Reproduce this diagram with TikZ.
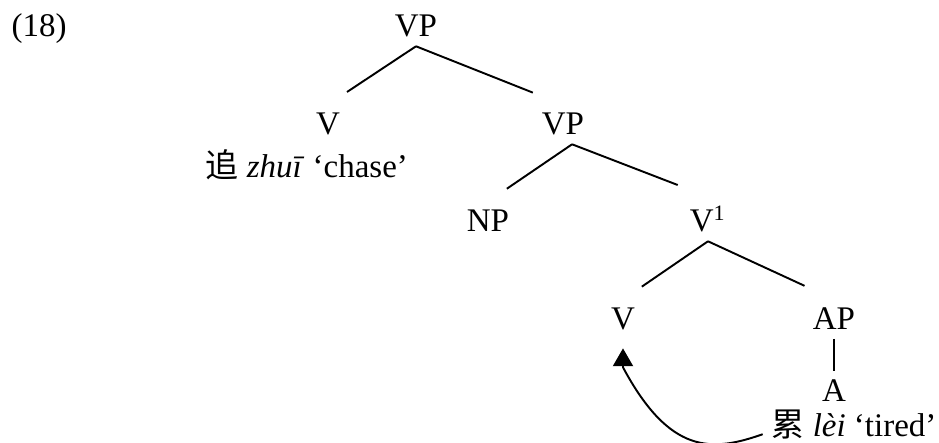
\documentclass[tikz,border=0pt]{standalone}
\usepackage{fontspec}
\setmainfont{Liberation Serif}
\newfontfamily\cjk{Noto Sans CJK SC}
\usetikzlibrary{arrows.meta}
\tikzset{
  cat/.style={inner xsep=0pt,inner ysep=3pt,anchor=base,
              font=\fontsize{12}{14}\selectfont},
  gloss/.style={cat,anchor=base west},
  branchL/.style={line width=0.7pt,shorten >=8.3pt},
  branchR/.style={line width=0.7pt,shorten >=11.8pt},
  move/.style={-{Triangle[width=7.3pt,length=6.5pt]},line width=0.7pt},
}

\begin{document}
\begin{tikzpicture}[x=0.3636pt,y=-0.3636pt]
  \useasboundingbox (0,0) rectangle (939,443);
  \node[gloss] (ex) at (11,37) {(18)};
  \node[cat] (vp) at (416,37) {VP};
  \node[cat] (v) at (328,135) {V};
  \node[gloss] (zhui) at (205,178) {{\cjk 追} \textit{zhuī} `chase'};
  \node[cat] (vpb) at (563,135) {VP};
  \node[cat] (np) at (488,232) {NP};
  \node[cat] (vbar) at (708,232) {V\textsuperscript{1}};
  \node[cat] (vlow) at (623,330) {V};
  \node[cat] (ap) at (834,330) {AP};
  \node[cat] (a) at (834,402) {A};
  \node[cat,anchor=base east] (lei) at (937,437) {{\cjk 累} \textit{lèi} `tired'};
  % branches
  \draw[branchL] (vp.south) -- (v.north);
  \draw[branchR] (vp.south) -- (vpb.north);
  \draw[branchL] ([xshift=3.3pt]vpb.south) -- (np.north);
  \draw[branchR] ([xshift=3.3pt]vpb.south) -- (vbar.north);
  \draw[branchL] (vbar.south) -- (vlow.north);
  \draw[branchR] (vbar.south) -- (ap.north);
  \draw[line width=0.7pt] (ap.south) -- (a.north);
  % movement of the adjective
  \draw[move] ([xshift=-3pt,yshift=1pt]lei.base west)
    .. controls (712,452) and (670,455) .. ([yshift=-10.2pt]vlow.south)
    -- ([yshift=-3.3pt]vlow.south);
\end{tikzpicture}
\end{document}
